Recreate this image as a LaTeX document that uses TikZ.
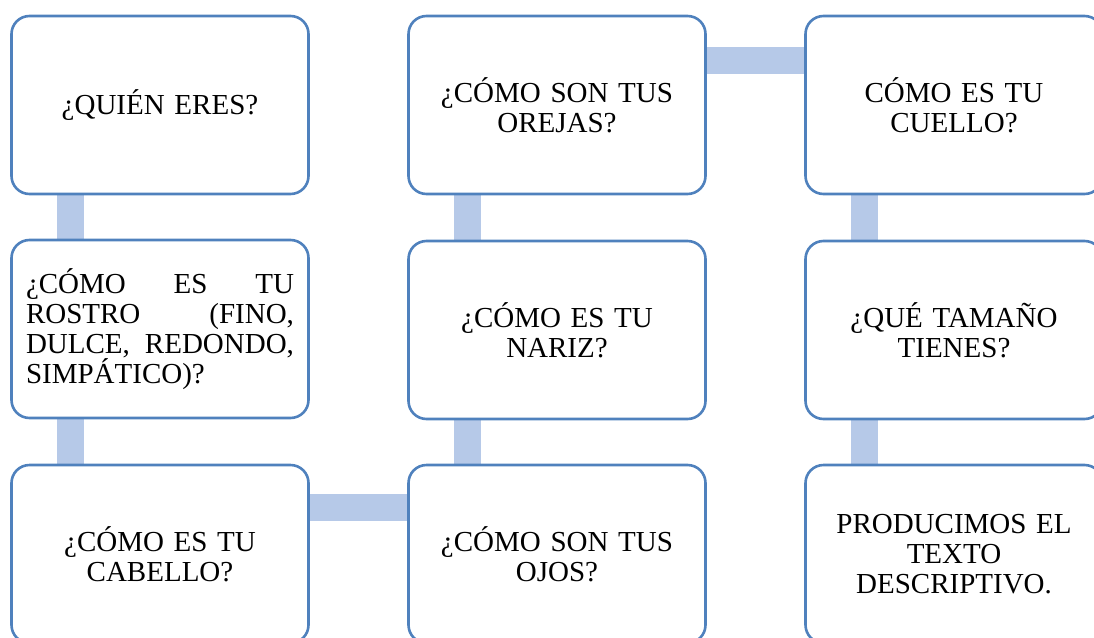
\documentclass[tikz,border=0pt]{standalone}
\usepackage{fontspec}
\setmainfont{Liberation Serif}
\usetikzlibrary{backgrounds}
\definecolor{boxline}{RGB}{79,129,189}
\definecolor{connfill}{RGB}{182,201,232}
\tikzset{
  stepbox/.style={draw=boxline, line width=2.6pt, fill=white, rounded corners=18pt,
    minimum width=297pt, minimum height=178pt, inner sep=0pt, outer sep=0pt,
    align=center, text width=268pt, font=\fontsize{29}{30.2}\selectfont},
  conn/.style={draw=connfill, line width=27pt}
}
\newcommand{\jline}[1]{\makebox[268pt][l]{#1}}
\begin{document}
\begin{tikzpicture}[x=1pt,y=-1pt]
\useasboundingbox (0,0) rectangle (1094,637);
\clip (0,0) rectangle (1094,637);
\node[stepbox] (a1) at (160,105) {¿QUIÉN ERES?};
\node[stepbox, align=left] (a2) at (160,329) {\jline{¿CÓMO\hfill ES\hfill TU}\\\jline{ROSTRO\hfill (FINO,}\\\jline{DULCE,\hfill REDONDO,}\\SIMPÁTICO)?};
\node[stepbox] (a3) at (160,554) {¿CÓMO ES TU\\CABELLO?};
\node[stepbox] (b1) at (557,105) {¿CÓMO SON TUS\\OREJAS?};
\node[stepbox] (b2) at (557,330) {¿CÓMO ES TU\\NARIZ?};
\node[stepbox] (b3) at (557,554) {¿CÓMO SON TUS\\OJOS?};
\node[stepbox] (c1) at (954,105) {CÓMO ES TU\\CUELLO?};
\node[stepbox] (c2) at (954,330) {¿QUÉ TAMAÑO\\TIENES?};
\node[stepbox] (c3) at (954,554) {PRODUCIMOS EL\\TEXTO\\DESCRIPTIVO.};
\begin{scope}[on background layer]
\draw[conn] ([xshift=-89.5pt]a1.south) -- ([xshift=-89.5pt]a2.north);
\draw[conn] ([xshift=-89.5pt]a2.south) -- ([xshift=-89.5pt]a3.north);
\draw[conn] ([yshift=47pt]a3.east) -- ([yshift=47pt]b3.west);
\draw[conn] ([xshift=-89.5pt]b3.north) -- ([xshift=-89.5pt]b2.south);
\draw[conn] ([xshift=-89.5pt]b2.north) -- ([xshift=-89.5pt]b1.south);
\draw[conn] ([yshift=45pt]b1.east) -- ([yshift=45pt]c1.west);
\draw[conn] ([xshift=-89.5pt]c1.south) -- ([xshift=-89.5pt]c2.north);
\draw[conn] ([xshift=-89.5pt]c2.south) -- ([xshift=-89.5pt]c3.north);
\end{scope}
\end{tikzpicture}
\end{document}
